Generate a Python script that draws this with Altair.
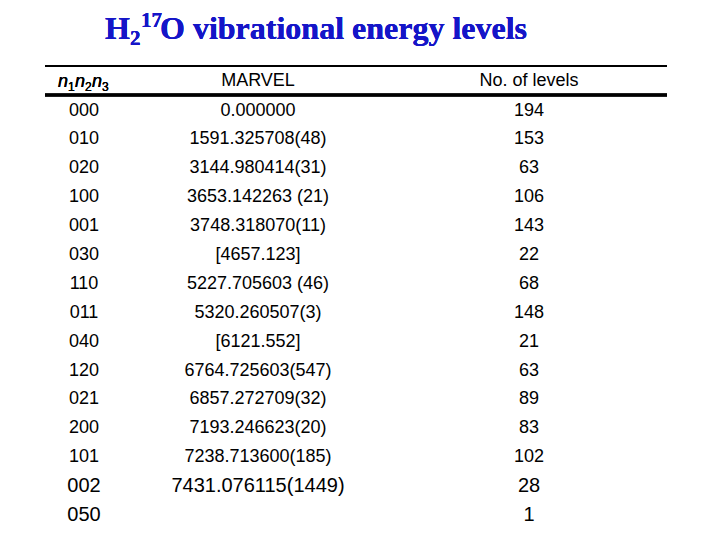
import altair as alt
import pandas as pd

modes = ["000", "010", "020", "100", "001", "030", "110", "011", "040",
         "120", "021", "200", "101", "002", "050"]
marvel = ["0.000000", "1591.325708(48)", "3144.980414(31)", "3653.142263 (21)",
          "3748.318070(11)", "[4657.123]", "5227.705603 (46)", "5320.260507(3)",
          "[6121.552]", "6764.725603(547)", "6857.272709(32)", "7193.246623(20)",
          "7238.713600(185)", "7431.076115(1449)", ""]
levels = [194, 153, 63, 106, 143, 22, 68, 148, 21, 63, 89, 83, 102, 28, 1]
headers = ["", "MARVEL", "No. of levels"]
cols = ["mode", "marvel", "levels"]

rows = []
for i, (m, e, n) in enumerate(zip(modes, marvel, levels)):
    for ci, v in enumerate([m, e, str(n)]):
        rows.append({"idx": i, "row": m, "ci": ci, "txt": v})
body_df = pd.DataFrame(rows)
head_df = pd.DataFrame({"ci": [0, 1, 2], "txt": headers})

FONT = "Liberation Sans"
xscale = alt.Scale(type="linear", domain=[0, 1, 2], range=[76, 250, 521])

body = alt.Chart(body_df).mark_text(
    font=FONT, baseline="middle", align="center", color="black"
).encode(
    x=alt.X("ci:Q", scale=xscale, axis=None),
    y=alt.Y("row:O", sort=modes,
            scale=alt.Scale(type="point", padding=0, range=[102.5, 507]),
            axis=None),
    text="txt:N",
    size=alt.condition("datum.idx >= 13", alt.value(20), alt.value(18)),
)

head_main = alt.Chart(head_df).transform_filter("datum.ci > 0").mark_text(
    font=FONT, baseline="middle", align="center", fontSize=18, color="black"
).encode(
    x=alt.X("ci:Q", scale=xscale, axis=None),
    y=alt.value(73),
    text="txt:N",
)

# n1 n2 n3 header: italic n with upright subscripts
head_parts = []
for k, sub in enumerate(["1", "2", "3"]):
    x0 = 50 + k * 17
    head_parts.append(
        alt.Chart(head_df).mark_text(
            text="n", font=FONT, fontSize=18, fontStyle="italic",
            color="black", align="left", baseline="alphabetic"
        ).encode(x=alt.value(x0), y=alt.value(78.5))
    )
    head_parts.append(
        alt.Chart(head_df).mark_text(
            text=sub, font=FONT, fontSize=12, color="black",
            align="left", baseline="alphabetic"
        ).encode(x=alt.value(x0 + 10), y=alt.value(82.5))
    )

rule_top = alt.Chart(head_df).mark_rule(color="black", strokeWidth=2).encode(
    x=alt.value(37), x2=alt.value(659), y=alt.value(58)
)
rule_mid = alt.Chart(head_df).mark_rule(color="black", strokeWidth=3).encode(
    x=alt.value(37), x2=alt.value(659), y=alt.value(87)
)

BLUE = "#1515c8"
title_parts = [
    ("H", 97, 31, 32),
    ("2", 122, 37, 21),
    ("17", 133, 19, 21),
    ("O vibrational energy levels", 152, 31, 32),
]
title_layers = []
for t, x, y, fs in title_parts:
    title_layers.append(
        alt.Chart(head_df).mark_text(
            text=t, font="Liberation Serif", fontWeight="bold", fontSize=fs,
            color=BLUE, align="left", baseline="alphabetic"
        ).encode(x=alt.value(x), y=alt.value(y))
    )

chart = alt.layer(
    rule_top, rule_mid, head_main, *head_parts, body, *title_layers
).properties(
    width=704, height=524, padding=0, autosize="none", background="white"
).configure_view(stroke=None)

chart.save("out.html", embed_options={"renderer": "svg", "actions": False})
